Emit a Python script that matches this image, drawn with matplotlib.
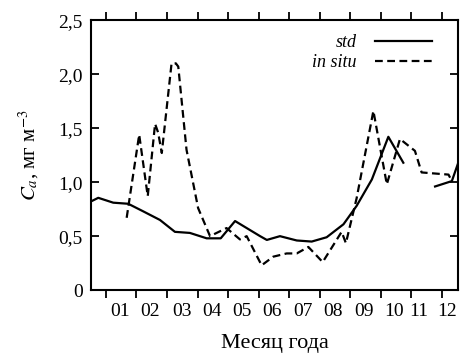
import numpy as np
import matplotlib
matplotlib.use('Agg')
import matplotlib.pyplot as plt

plt.rcParams['font.family'] = ['Liberation Serif', 'DejaVu Serif']
plt.rcParams['mathtext.fontset'] = 'stix'

# std: climatology, x in months (0 = start of January)
std_x1 = [-0.50, -0.25, 0.24, 0.73, 1.22, 1.77, 2.26, 2.75, 3.30, 3.76, 4.23,
          5.05, 5.27, 5.70, 6.25, 6.74, 7.23, 7.78, 8.21, 8.71, 9.25, 9.74]
std_y1 = [0.82, 0.855, 0.81, 0.80, 0.73, 0.65, 0.54, 0.53, 0.48, 0.48, 0.64,
          0.50, 0.465, 0.50, 0.46, 0.45, 0.49, 0.61, 0.78, 1.025, 1.42, 1.18]
std_x2 = [10.78, 11.33, 11.54]
std_y2 = [0.96, 1.01, 1.18]

# in situ measurements
situ_x = [0.68, 1.09, 1.37, 1.61, 1.71, 1.83, 2.15, 2.29, 2.37, 2.64, 3.02,
          3.41, 3.95, 4.39, 4.61, 5.10, 5.48, 5.92, 6.25, 6.63, 7.10, 7.72,
          7.86, 8.21, 8.76, 9.20, 9.63, 10.12, 10.34, 11.22, 11.33]
situ_y = [0.67, 1.44, 0.87, 1.54, 1.46, 1.27, 2.10, 2.10, 2.07, 1.30, 0.76,
          0.50, 0.575, 0.47, 0.50, 0.23, 0.31, 0.34, 0.34, 0.40, 0.26, 0.54,
          0.435, 0.85, 1.66, 0.98, 1.40, 1.29, 1.09, 1.07, 1.01]

month_labels = ['01', '02', '03', '04', '05', '06', '07', '08', '09', '10', '11', '12']
label_pos = [0.46, 1.44, 2.48, 3.46, 4.44, 5.45, 6.47, 7.45, 8.45, 9.44, 10.24, 11.16]
yticks = [0, 0.5, 1.0, 1.5, 2.0, 2.5]
ytick_labels = ['0', '0,5', '1,0', '1,5', '2,0', '2,5']

fig = plt.figure(figsize=(4.64, 3.6), dpi=100)
ax = fig.add_axes([0.196, 0.194, 0.791, 0.75])

ax.plot(std_x1, std_y1, color='black', lw=1.6, label='std')
ax.plot(std_x2, std_y2, color='black', lw=1.6)
ax.plot(situ_x, situ_y, color='black', lw=1.6, ls=(0, (3.5, 2)), label='in situ')

ax.set_xlim(-0.49, 11.53)
ax.set_ylim(0, 2.5)

ax.set_xticks(range(12))
ax.set_xticklabels([])
ax.set_xticks(label_pos, minor=True)
ax.set_xticklabels(month_labels, minor=True)
ax.tick_params(axis='x', which='major', direction='out', length=5.8, width=1.3,
               top=True, bottom=True)
ax.tick_params(axis='x', which='minor', length=0, labelsize=14, pad=9)

ax.set_yticks(yticks)
ax.set_yticklabels(ytick_labels)
ax.tick_params(axis='y', direction='in', length=5.8, width=1.3, left=True,
               right=True, labelsize=14, pad=6)

for s in ax.spines.values():
    s.set_linewidth(1.5)

ax.set_xlabel('Месяц года', fontsize=16, labelpad=10)
ax.set_ylabel(r'$C_a$, мг м$^{-3}$', fontsize=15, labelpad=12)

leg = ax.legend(loc='upper right', bbox_to_anchor=(0.95, 0.975), frameon=False,
                markerfirst=False, handlelength=3.2,
                prop={'style': 'italic', 'size': 13},
                borderaxespad=0, labelspacing=0.15, handletextpad=1.0)

fig.savefig('out.png', dpi=100)
